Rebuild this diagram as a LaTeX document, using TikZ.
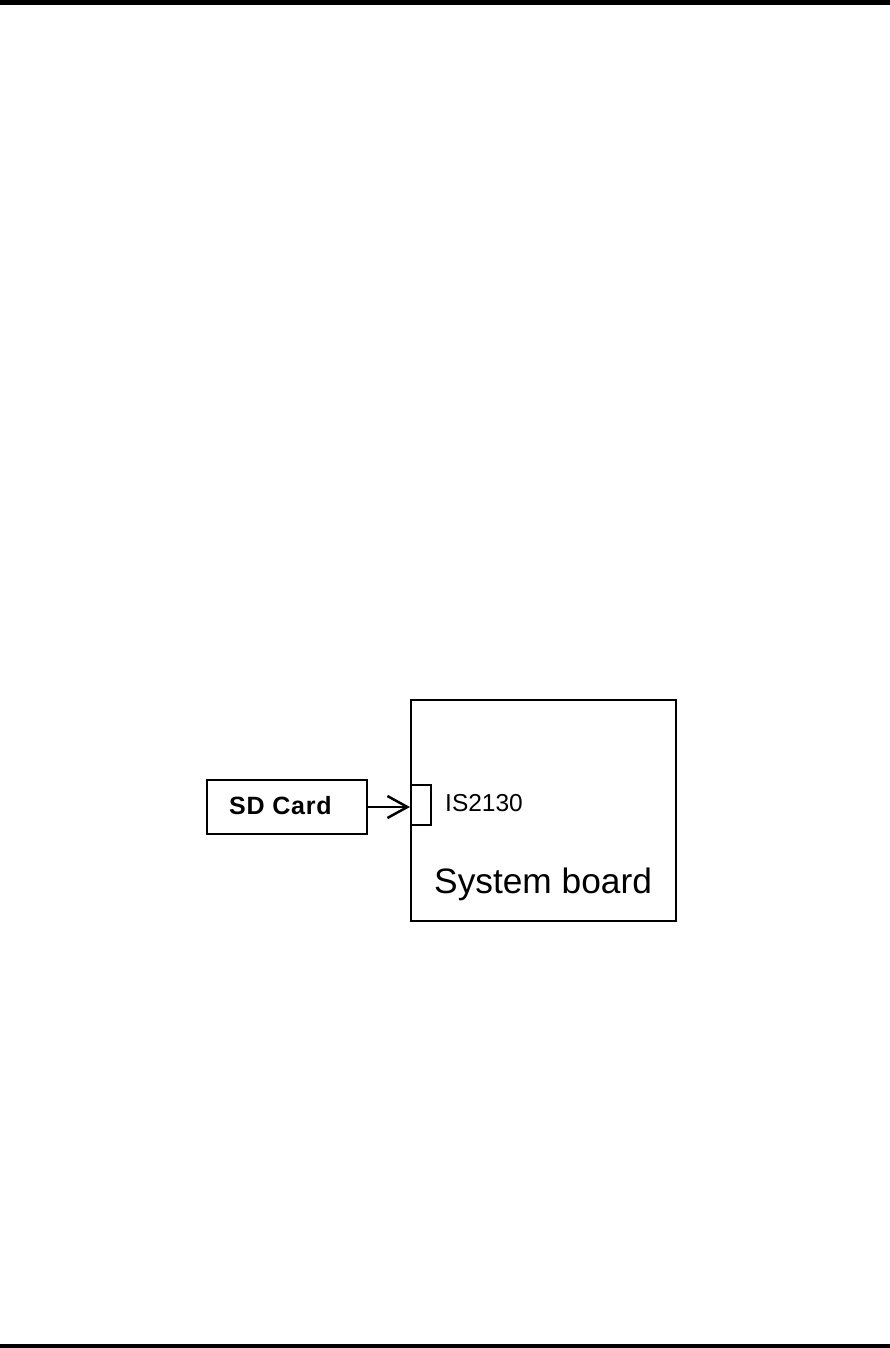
\documentclass[tikz,border=0pt]{standalone}
\usepackage{fontspec}
\setmainfont{Liberation Sans}
\usetikzlibrary{arrows.meta}
\begin{document}
\begin{tikzpicture}[x=1pt,y=-1pt,
  boxline/.style={draw=black,line width=2pt},
  bar/.style={fill=black,draw=none},
  lbl/.style={inner sep=0pt,anchor=west}]
\useasboundingbox (0,0) rectangle (890,1348);
\fill[bar] (0,0) rectangle (890,5);
\fill[bar] (0,1344) rectangle (890,1348);
\node[boxline,minimum width=160pt,minimum height=54pt,inner sep=0pt] (sd) at (286.5,807) {};
\node[lbl,font=\bfseries\fontsize{25}{30}\selectfont\addfontfeature{LetterSpace=3}] (sdt) at (229,806) {SD Card};
\node[boxline,minimum width=265pt,minimum height=221pt,inner sep=0pt] (sb) at (543.5,810) {};
\node[boxline,minimum width=20pt,minimum height=40pt,inner sep=0pt,anchor=west] (con) at (sb.west |- 0,804.5) {};
\node[lbl,font=\fontsize{24.5}{30}\selectfont] (ist) at (445,803) {IS2130};
\node[lbl,font=\fontsize{35.3}{40}\selectfont] (sbt) at (434,884) {System board};
\draw[line width=2.5pt,-{Straight Barb[length=20pt,width=22pt,line width=2.5pt]}] (sd.east) -- (sd.east -| con.west);
\end{tikzpicture}
\end{document}
